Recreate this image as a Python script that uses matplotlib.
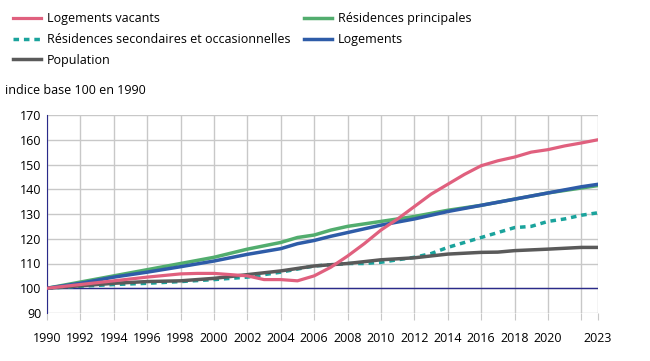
import matplotlib.pyplot as plt

plt.rcParams['font.family'] = ['Open Sans', 'DejaVu Sans']

# Données (indice base 100 en 1990)
annees_vac = [1990, 1992, 1994, 1996, 1998, 1999, 2000, 2001, 2002, 2003, 2004, 2005, 2006,
              2007, 2008, 2009, 2010, 2011, 2012, 2013, 2014, 2015, 2016, 2017, 2018, 2019,
              2020, 2021, 2022, 2023]
vacants = [100, 101.5, 103, 104.5, 105.8, 106, 106, 105.5, 105, 103.5, 103.5, 103, 105,
           108.5, 113, 118, 123.5, 128, 133, 138, 142, 146, 149.5, 151.5, 153, 155,
           156, 157.5, 158.7, 160]

annees_rp = [1990, 1992, 1994, 1996, 1998, 2000, 2002, 2004, 2005, 2006, 2007, 2008, 2010,
             2012, 2014, 2016, 2018, 2020, 2022, 2023]
principales = [100, 102.5, 105, 107.5, 110, 112.5, 115.8, 118.5, 120.5, 121.5, 123.5, 125, 127,
               129, 131.5, 133.5, 136, 138.5, 140.5, 141.5]

annees_log = [1990, 1992, 1994, 1996, 1998, 2000, 2002, 2004, 2005, 2006, 2007, 2008, 2009,
              2010, 2012, 2013, 2014, 2016, 2018, 2020, 2022, 2023]
logements = [100, 102, 104.5, 106.5, 108.7, 111, 113.7, 116, 118, 119.3, 121, 122.5, 124,
             125.5, 128, 129.5, 131, 133.5, 136, 138.5, 141, 142]

annees_rs = [1990, 1992, 1994, 1996, 1998, 2000, 2002, 2004, 2006, 2008, 2009, 2010, 2011,
             2012, 2013, 2014, 2015, 2016, 2017, 2018, 2019, 2020, 2021, 2022, 2023]
secondaires = [100, 100.8, 101.5, 102, 102.7, 103.5, 104.5, 106.5, 109, 110, 110, 110.5, 111.5,
               112.5, 114, 116.5, 118.5, 120.5, 122.5, 124.5, 125, 127, 128, 129.5, 130.5]

annees_pop = [1990, 1992, 1994, 1996, 1998, 2000, 2002, 2004, 2006, 2008, 2010, 2012, 2014,
              2016, 2017, 2018, 2020, 2022, 2023]
population = [100, 101, 102, 102.7, 103, 104, 105.5, 107, 109, 110, 111.5, 112.3, 113.8,
              114.5, 114.6, 115.2, 115.8, 116.5, 116.5]

xticks = list(range(1990, 2023, 2)) + [2023]
xlabels = [str(a) if a != 2022 else '' for a in xticks]

fig = plt.figure(figsize=(6.5, 3.61), dpi=100)
ax = fig.add_axes([47 / 650, 1 - 313 / 361, 551 / 650, 198 / 361])

l_vac, = ax.plot(annees_vac, vacants, color='#e0607e', lw=2.3, label='Logements vacants', zorder=4)
l_rs, = ax.plot(annees_rs, secondaires, color='#1aa39c', lw=2.5, ls=(0, (1.6, 1.4)),
                label='Résidences secondaires et occasionnelles')
l_pop, = ax.plot(annees_pop, population, color='#5a5a5a', lw=2.5, label='Population')
l_rp, = ax.plot(annees_rp, principales, color='#52ad6e', lw=2.5, label='Résidences principales')
l_log, = ax.plot(annees_log, logements, color='#2e5ca8', lw=2.5, label='Logements')

ax.axhline(100, color='#2a2a8a', lw=1, zorder=1)

ax.set_xlim(1990, 2023)
ax.set_ylim(90, 170)
ax.set_xticks(xticks)
ax.set_xticklabels(xlabels)
ax.set_yticks(range(90, 171, 10))
ax.grid(True, color='#c8c8c8', lw=1)
ax.set_axisbelow(True)
for s in ['top', 'right', 'bottom']:
    ax.spines[s].set_visible(False)
ax.spines['left'].set_color('#2a2a8a')
ax.tick_params(axis='x', length=5, color='#c8c8c8', labelsize=9, pad=9)
ax.tick_params(axis='y', length=0, labelsize=9, pad=4)

fig.text(5 / 650, 1 - 90 / 361, 'indice base 100 en 1990', fontsize=9, va='center')

# ordre colonne par colonne : vacants, secondaires, population | principales, logements
fig.legend(handles=[l_vac, l_rs, l_pop, l_rp, l_log], ncol=2, loc='upper left',
           bbox_to_anchor=(0.002, 0.997), frameon=False, fontsize=9,
           handlelength=2.3, columnspacing=1.05, labelspacing=0.62, handletextpad=0.45)

fig.savefig('out.png', dpi=100)
